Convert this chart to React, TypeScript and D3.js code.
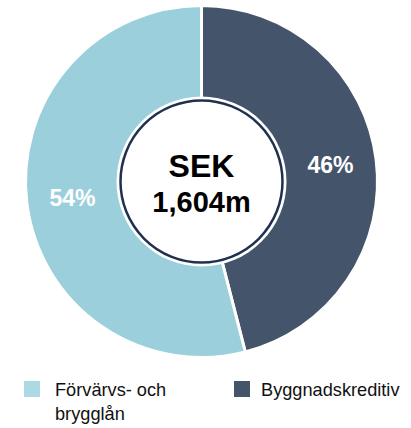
import React from 'react';
import * as d3 from 'd3';

const categories = ['Byggnadskreditiv', 'Förvärvs- och brygglån'];
const shares = [46, 54];
const colors = ['#44546a', '#9ccfdc'];
const legendColors = ['#44546a', '#acd9e4'];
const centerLines = ['SEK', '1,604m'];

const width = 411;
const height = 428;
const cx = 201.5;
const cy = 181.5;
const radius = 176;

const App = () => {
  const pie = d3.pie<number>().sort(null).value(d => d)(shares);
  const arc = d3.arc<d3.PieArcDatum<number>>().innerRadius(0).outerRadius(radius);
  const labelArc = d3.arc<d3.PieArcDatum<number>>().innerRadius(130).outerRadius(130);

  return (
    <svg width={width} height={height} style={{ position: 'absolute', left: 0, top: 0 }}
      fontFamily="'Liberation Sans', Arial, sans-serif">
      <g transform={`translate(${cx},${cy})`}>
        {pie.map((d, i) => (
          <path key={i} d={arc(d) || ''} fill={colors[i]} stroke="#fff" strokeWidth={3} />
        ))}
        {pie.map((d, i) => {
          const [x, y] = labelArc.centroid(d);
          return (
            <text key={'l' + i} x={x} y={y} dy="0.35em" textAnchor="middle" fill="#fff"
              fontWeight="bold" fontSize={23}>
              {d.data}%
            </text>
          );
        })}
        <circle r={85} fill="#fff" />
        <circle r={81} fill="#fff" stroke="#1f3150" strokeWidth={2.5} />
        <text y={-4.5} textAnchor="middle" fontWeight="bold" fontSize={32} fill="#000">
          {centerLines[0]}
        </text>
        <text y={30.5} textAnchor="middle" fontWeight="bold" fontSize={29} fill="#000">
          {centerLines[1]}
        </text>
      </g>
      <g fontSize={18.2} fill="#111">
        <rect x={24} y={381} width={16} height={16} fill={legendColors[1]} />
        <text x={55} y={396}>Förvärvs- och</text>
        <text x={55} y={420}>brygglån</text>
        <rect x={234} y={381} width={16} height={16} fill={legendColors[0]} />
        <text x={261} y={396}>{categories[0]}</text>
      </g>
    </svg>
  );
};

export default App;
